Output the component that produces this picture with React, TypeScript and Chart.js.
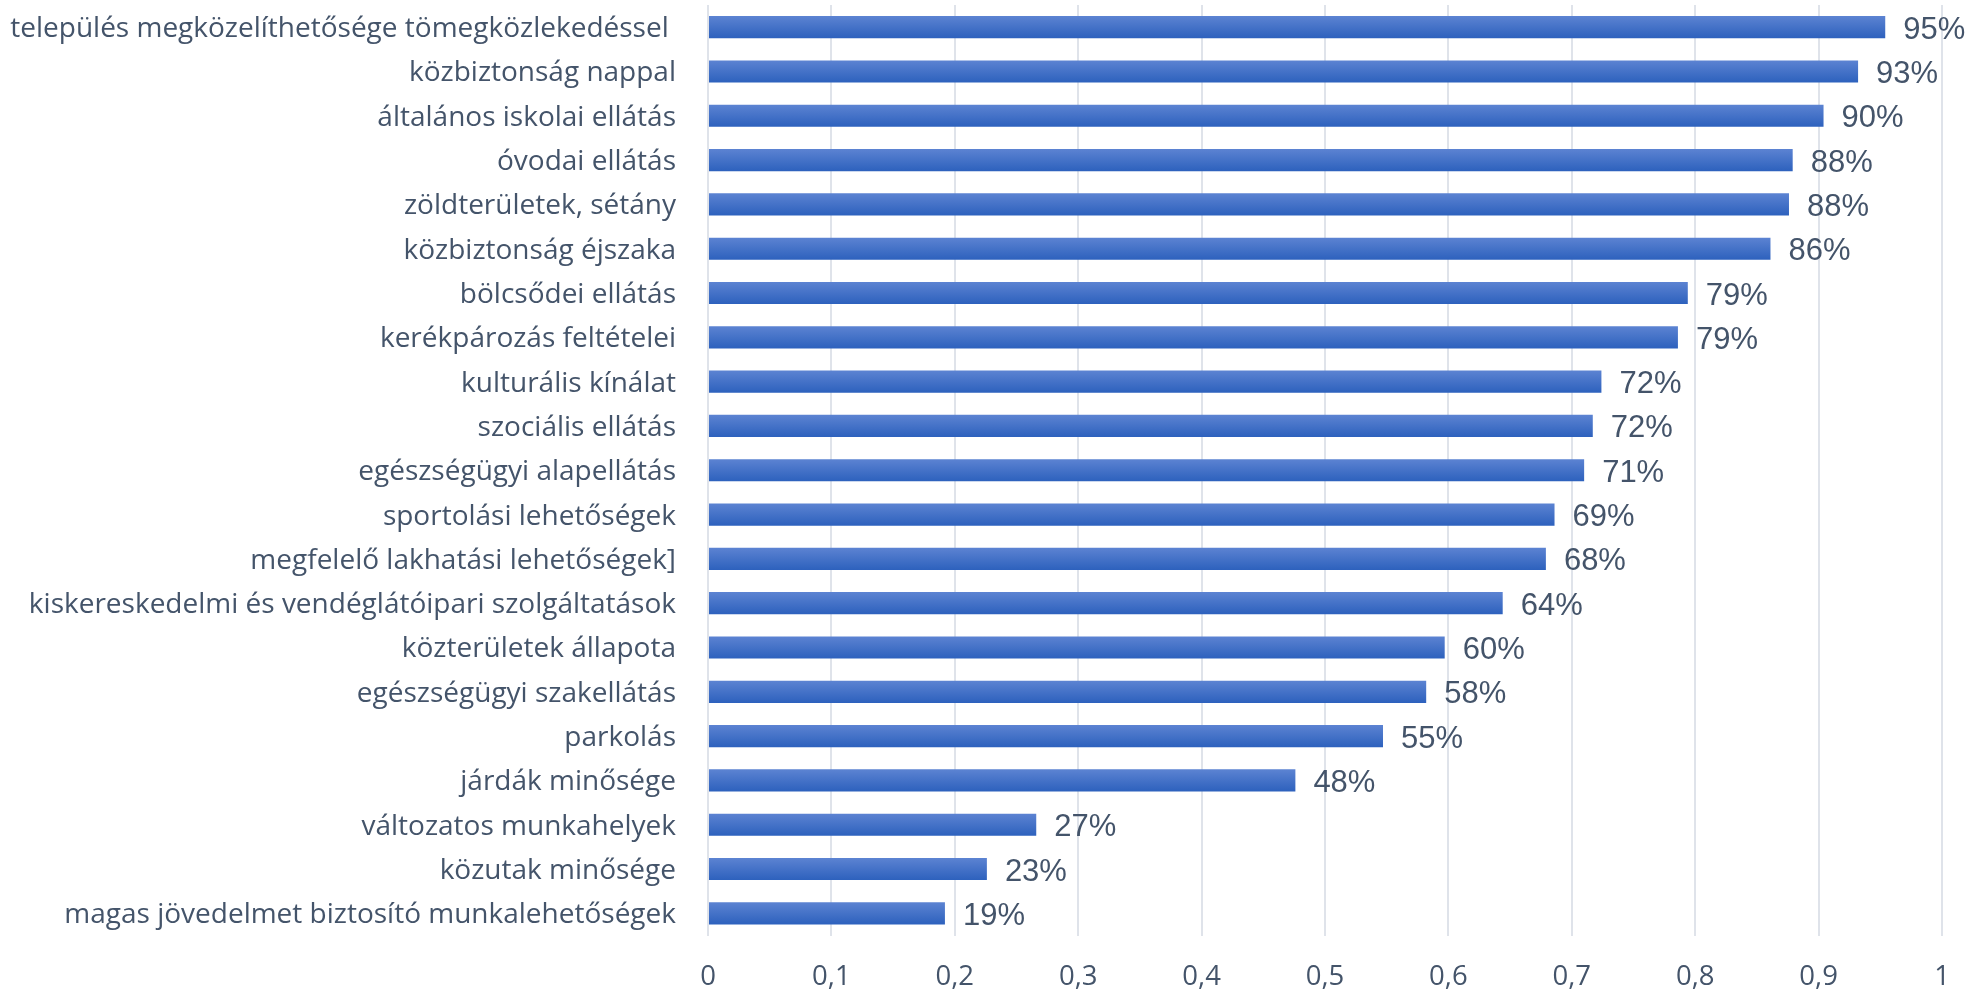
import React, { useEffect, useRef } from "react";
import { Chart, registerables } from "chart.js";

Chart.register(...registerables);

const categories: string[] = [
  "település megközelíthetősége tömegközlekedéssel ",
  "közbiztonság nappal",
  "általános iskolai ellátás",
  "óvodai ellátás",
  "zöldterületek, sétány",
  "közbiztonság éjszaka",
  "bölcsődei ellátás",
  "kerékpározás feltételei",
  "kulturális kínálat",
  "szociális ellátás",
  "egészségügyi alapellátás",
  "sportolási lehetőségek",
  "megfelelő lakhatási lehetőségek]",
  "kiskereskedelmi és vendéglátóipari szolgáltatások",
  "közterületek állapota",
  "egészségügyi szakellátás",
  "parkolás",
  "járdák minősége",
  "változatos munkahelyek",
  "közutak minősége",
  "magas jövedelmet biztosító munkalehetőségek",
];

const values: number[] = [
  0.954, 0.932, 0.904, 0.879, 0.876, 0.861, 0.794, 0.786, 0.724, 0.717, 0.71,
  0.686, 0.679, 0.644, 0.597, 0.582, 0.547, 0.476, 0.266, 0.226, 0.192,
];

const xTicks: number[] = [0, 0.1, 0.2, 0.3, 0.4, 0.5, 0.6, 0.7, 0.8, 0.9, 1];

const TEXT = "#44546a";

const gradientPlugin = {
  id: "barGradient",
  beforeDatasetsDraw(chart: any) {
    const ctx = chart.ctx;
    const meta = chart.getDatasetMeta(0);
    meta.data.forEach((bar: any) => {
      const half = bar.height / 2;
      if (!isFinite(bar.y) || !isFinite(half)) return;
      const g = ctx.createLinearGradient(0, bar.y - half, 0, bar.y + half);
      g.addColorStop(0, "#5c83d2");
      g.addColorStop(1, "#2d61bd");
      bar.options.backgroundColor = g;
    });
  },
};

const valueLabelPlugin = {
  id: "valueLabels",
  afterDatasetsDraw(chart: any) {
    const ctx = chart.ctx;
    const meta = chart.getDatasetMeta(0);
    ctx.save();
    ctx.font = '31px "Liberation Sans", Arial, sans-serif';
    ctx.fillStyle = TEXT;
    ctx.textAlign = "left";
    ctx.textBaseline = "middle";
    meta.data.forEach((bar: any, i: number) => {
      const label = Math.round(values[i] * 100) + "%";
      ctx.fillText(label, bar.x + 18, bar.y + 3);
    });
    ctx.restore();
  },
};

export default function App() {
  const canvasRef = useRef<HTMLCanvasElement | null>(null);

  useEffect(() => {
    const canvas = canvasRef.current;
    if (!canvas) return;
    const chart = new Chart(canvas, {
      type: "bar",
      data: {
        labels: categories,
        datasets: [
          {
            data: values,
            backgroundColor: (c: any) => (c.dataIndex >= 0 ? "#4472c4" : "#4472c4"),
            borderWidth: 0,
            barPercentage: 0.5,
            categoryPercentage: 1,
          },
        ],
      },
      options: {
        indexAxis: "y",
        animation: false,
        responsive: true,
        maintainAspectRatio: false,
        layout: { padding: { top: 5, right: 38, bottom: 0, left: 0 } },
        plugins: {
          legend: { display: false },
          tooltip: { enabled: false },
        },
        scales: {
          x: {
            min: 0,
            max: 1,
            afterBuildTicks: (scale: any) => {
              scale.ticks = xTicks.map((v) => ({ value: v }));
            },
            afterFit: (scale: any) => {
              scale.height = 55.5;
              scale.paddingLeft = 0;
              scale.paddingRight = 0;
            },
            ticks: {
              color: TEXT,
              font: { family: '"Open Sans", sans-serif', size: 27.5 },
              padding: 25,
              callback: (v: any) => String(v).replace(".", ","),
              maxRotation: 0,
              autoSkip: false,
            },
            grid: {
              color: "#dfe3ea",
              lineWidth: 2,
              drawTicks: false,
            },
            border: { display: false },
          },
          y: {
            afterFit: (scale: any) => {
              scale.width = 708;
              scale.paddingTop = 0;
              scale.paddingBottom = 0;
            },
            ticks: {
              color: TEXT,
              font: { family: '"Open Sans", sans-serif', size: 28 },
              padding: 32,
              labelOffset: 2,
              autoSkip: false,
            },
            grid: { display: false, drawTicks: false },
            border: { display: false },
          },
        },
      },
      plugins: [gradientPlugin, valueLabelPlugin],
    });
    return () => chart.destroy();
  }, []);

  return (
    <div
      style={{
        position: "fixed",
        left: 0,
        top: 0,
        width: "1980px",
        height: "991px",
        background: "#ffffff",
      }}
    >
      <canvas ref={canvasRef} />
    </div>
  );
}
